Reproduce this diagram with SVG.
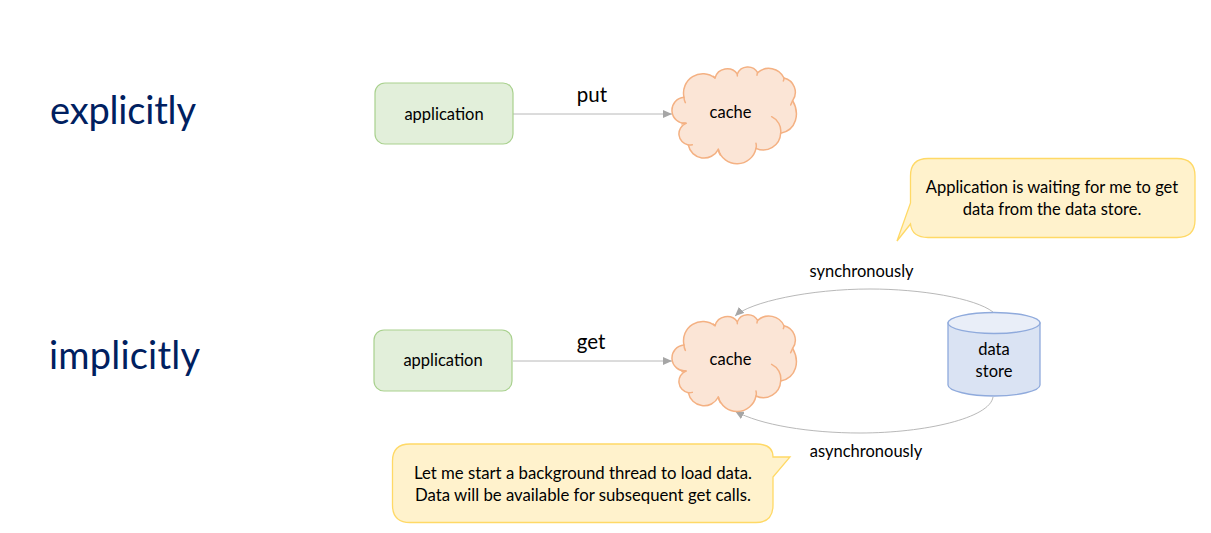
<svg xmlns="http://www.w3.org/2000/svg" width="1211" height="533" viewBox="0 0 1211 533">
<style>
text{font-family:"Lato","Carlito","Open Sans",sans-serif;fill:#000;text-anchor:middle}
.h{font-size:38px;fill:#002060;text-anchor:start}
.l{font-size:16.5px}
.w{font-size:16.750px}
.m{font-size:20.5px}
.app{fill:#e2efda;stroke:#a9d18e;stroke-width:1.2}
.cloud{fill:#fbe5d6;stroke:#f4b183;stroke-width:4.5;stroke-linejoin:round;stroke-linecap:round}
.callout{fill:#fff2cc;stroke:#ffd966;stroke-width:1.3}
.c{fill:none;stroke:#b0b0b0;stroke-width:.9;marker-end:url(#a)}
</style>
<defs>
<marker id="a" markerUnits="userSpaceOnUse" markerWidth="10" markerHeight="8" refX="9" refY="4" orient="auto"><path d="M0 0L9 4L0 8Z" fill="#a6a6a6"/></marker>
<g id="cloudShape">
<path class="cloud" d="M72 142A58 58 0 0 1 165 84A38 38 0 0 1 232 72A34 34 0 0 1 293 68A50 50 0 0 1 372 84A44 44 0 0 1 398 152C420 190 410 240 362 250A52 52 0 0 1 288 295A58 58 0 0 1 175 298A48 48 0 0 1 85 285A34 34 0 0 1 78 220A39 39 0 0 1 72 142Z"/>
<path d="M335 200A48 48 0 0 1 362 250M288 295Q290 288 288 280M175 298Q176 307 181 315M85 285Q90 286 97 284M78 220Q72 218 66 222M72 142Q72 150 76 158M165 84Q163 81 160 79M232 72V78M293 68Q291 72 291 76M372 84Q372 89 370 93M398 152L392 165" fill="none" stroke="#f4b183" stroke-width="4.5" stroke-linecap="round"/>
</g>
</defs>
<rect width="1211" height="533" fill="#fff"/>
<text class="h" x="50" y="124" textLength="146">explicitly</text>
<text class="h" x="49" y="369" textLength="151">implicitly</text>
<g id="connectors">
<path class="c" d="M513 114H672"/>
<path class="c" d="M513 361H672"/>
<path class="c" d="M993 312C975 298 920 289 870 289C810 289 750 302 735 316"/>
<path class="c" d="M993 397C990 418 925 433 860 433C810 433 760 425 735 411"/>
</g>
<text class="m" x="592" y="102">put</text>
<text class="m" x="591" y="349">get</text>
<text class="l" x="861.500" y="277">synchronously</text>
<text class="l" x="866" y="457">asynchronously</text>
<g id="app1"><rect class="app" x="375" y="83" width="138" height="61" rx="10"/><text class="l" x="444" y="120">application</text></g>
<g id="cache1"><use href="#cloudShape" transform="translate(660 50) scale(.3333)"/><text class="l" x="730.500" y="118">cache</text></g>
<g id="app2"><rect class="app" x="374" y="330" width="138" height="61" rx="10"/><text class="l" x="443" y="366">application</text></g>
<g id="cache2"><use href="#cloudShape" transform="translate(660 297.700) scale(.3333)"/><text class="l" x="730.500" y="365">cache</text></g>
<g id="store">
<path d="M948 323V385C948 391 970 396 994 396C1018 396 1040 391 1040 385V323Z" fill="#dae3f3" stroke="#8faadc" stroke-width="1.3"/>
<ellipse cx="994" cy="323" rx="46" ry="10.500" fill="#e9eef8" stroke="#8faadc" stroke-width="1.3"/>
<text class="l" x="994" y="355">data</text><text class="l" x="994" y="377">store</text>
</g>
<g id="callout1">
<path class="callout" d="M928 158.500H1177Q1195 158.500 1195 176V220Q1195 237.500 1177 237.500H928Q912 237.500 910.500 224L897 241L910.500 203V176Q910.500 158.500 928 158.500Z"/>
<text class="l" x="1052" y="193">Application is waiting for me to get</text>
<text class="l" x="1052" y="215">data from the data store.</text>
</g>
<g id="callout2">
<path class="callout" d="M410 444H756Q773 444 773 457H790L773 477V505Q773 522.500 756 522.500H410Q392.500 522.500 392.500 505V461Q392.500 444 410 444Z"/>
<text class="w" x="583" y="479">Let me start a background thread to load data.</text>
<text class="w" x="583" y="501">Data will be available for subsequent get calls.</text>
</g>
</svg>
